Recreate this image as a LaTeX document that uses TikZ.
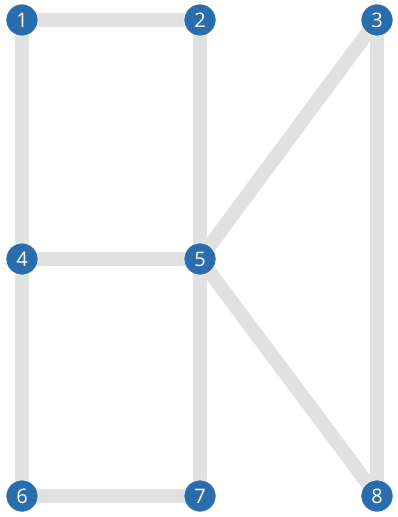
\documentclass[tikz,border=0pt]{standalone}
\usepackage{fontspec}
\setmainfont{Open Sans}
\usetikzlibrary{backgrounds}
\definecolor{nodeblue}{HTML}{2A6DAD}
\definecolor{edgegray}{HTML}{E1E1E1}
\begin{document}
\begin{tikzpicture}[x=1pt,y=-1pt,
  vtx/.style={circle,fill=nodeblue,draw=white,line width=0.6pt,minimum size=32pt,inner sep=0pt,text=white,font=\fontsize{20}{20}\selectfont},
  edge/.style={draw=edgegray,line width=14pt}]
\useasboundingbox (0,0) rectangle (398,517);
\node[vtx] (n1) at (22,20) {1};
\node[vtx] (n2) at (200,20) {2};
\node[vtx] (n3) at (377,20) {3};
\node[vtx] (n4) at (22,259) {4};
\node[vtx] (n5) at (200,259) {5};
\node[vtx] (n6) at (22,496) {6};
\node[vtx] (n7) at (200,496) {7};
\node[vtx] (n8) at (377,496) {8};
\begin{scope}[on background layer]
\path[edge] (n1.center) -- (n2.center);
\path[edge] (n1.center) -- (n4.center);
\path[edge] (n2.center) -- (n5.center);
\path[edge] (n3.center) -- (n5.center);
\path[edge] (n3.center) -- (n8.center);
\path[edge] (n4.center) -- (n5.center);
\path[edge] (n4.center) -- (n6.center);
\path[edge] (n5.center) -- (n7.center);
\path[edge] (n5.center) -- (n8.center);
\path[edge] (n6.center) -- (n7.center);
\end{scope}
\end{tikzpicture}
\end{document}
